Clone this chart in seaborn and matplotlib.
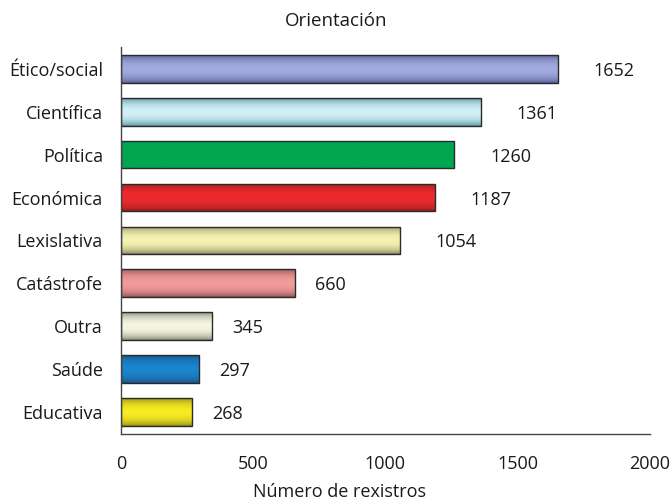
import numpy as np
import pandas as pd
import matplotlib
matplotlib.use("Agg")
import matplotlib.pyplot as plt
import matplotlib.colors as mcolors
import seaborn as sns


# Data
categorias = ["Ético/social", "Científica", "Política", "Económica", "Lexislativa",
              "Catástrofe", "Outra", "Saúde", "Educativa"]
rexistros = [1652, 1361, 1260, 1187, 1054, 660, 345, 297, 268]

# light (centre) and dark (edge) tones of each bar
cor_clara = ["#a3abde", "#d3f1f8", "#00a650", "#ee2a2e", "#f5f2b2",
             "#f49b9b", "#f6f6e2", "#1b85cd", "#f8ec22"]
cor_escura = ["#4d5896", "#4f8c99", "#00a650", "#8c1c1f", "#7e7e58",
              "#8a5050", "#7c7e6a", "#1a4f80", "#8a8418"]

x_ticks = [0, 500, 1000, 1500, 2000]


sns.set_style("white")
plt.rcParams["font.family"] = ["Open Sans", "DejaVu Sans"]

df = pd.DataFrame({"Orientación": categorias, "Rexistros": rexistros})

fig = plt.figure(figsize=(6.72, 5.01), dpi=100)
ax = fig.add_axes([0.180, 0.134, 0.787, 0.772])

sns.barplot(
    data=df,
    y="Orientación",
    x="Rexistros",
    hue="Orientación",
    palette=cor_clara,
    orient="h",
    width=0.65,
    edgecolor="#2a2a2a",
    linewidth=1.0,
    legend=False,
    ax=ax,
)

# cylinder-like shading clipped to each bar
perfil = np.linspace(0, 1, 64)
brillo = np.sin(np.pi * perfil) ** 0.6
for patch, clara, escura in zip(ax.patches, cor_clara, cor_escura):
    x0, y0 = patch.get_x(), patch.get_y()
    w, h = patch.get_width(), patch.get_height()
    c1 = np.array(mcolors.to_rgb(escura))
    c2 = np.array(mcolors.to_rgb(clara))
    grad = c1[None, :] * (1 - brillo[:, None]) + c2[None, :] * brillo[:, None]
    grad = grad[:, None, :]
    im = ax.imshow(grad, extent=(x0, x0 + w, y0 + h, y0), aspect="auto",
                   interpolation="bicubic", zorder=patch.get_zorder() + 0.1)
    im.set_clip_path(patch)
    patch.set_facecolor("none")
    patch.set_zorder(patch.get_zorder() + 0.2)

# value labels
for patch, v in zip(ax.patches, rexistros):
    desprazamento = 36 if len(str(v)) > 3 else 20
    ax.annotate(str(v), (patch.get_x() + patch.get_width(), patch.get_y() + patch.get_height() / 2),
                xytext=(desprazamento, -2), textcoords="offset pixels",
                ha="left", va="center", fontsize=13, color="#1a1a1a")

ax.set_xlim(0, 2000)
ax.set_ylim(8.5, -0.5)
ax.set_xticks(x_ticks)
ax.set_xticklabels([str(t) for t in x_ticks], fontsize=13, color="#1a1a1a")
ax.tick_params(axis="x", direction="out", length=5, width=1, color="#444444", pad=10)
ax.tick_params(axis="y", length=0, pad=13, labelsize=13, labelcolor="#1a1a1a")
ax.set_xlabel("")
ax.set_ylabel("")

for lado in ["top", "right"]:
    ax.spines[lado].set_visible(False)
for lado in ["left", "bottom"]:
    ax.spines[lado].set_color("#444444")
    ax.spines[lado].set_linewidth(1)

fig.text(0.5, 0.958, "Orientación", ha="center", va="center", fontsize=13.5, color="#1a1a1a")
fig.text(0.505, 0.018, "Número de rexistros", ha="center", va="center", fontsize=13, color="#1a1a1a")

fig.savefig("out.png", dpi=100)
